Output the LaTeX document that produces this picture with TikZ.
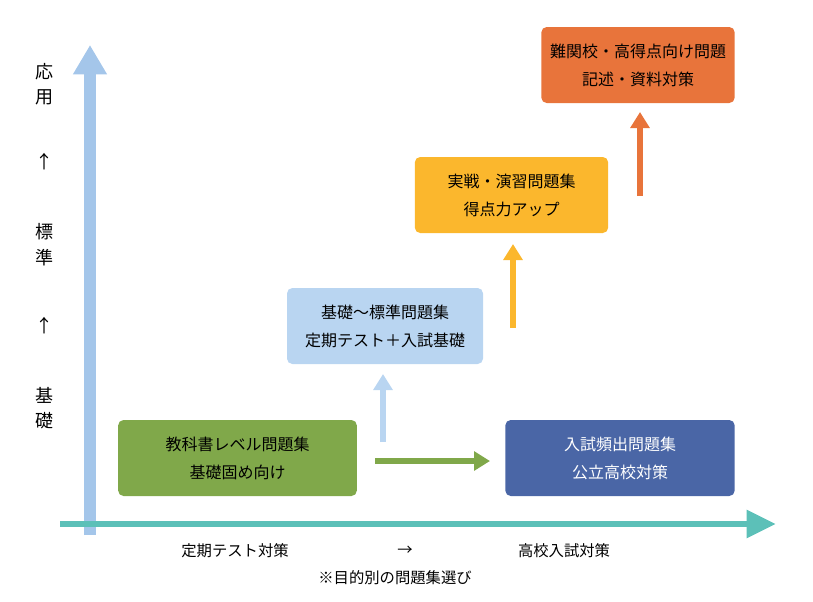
\documentclass[tikz,border=0pt]{standalone}
\usepackage{fontspec}
\setmainfont{Noto Sans CJK JP}
\usetikzlibrary{arrows.meta}
\definecolor{vblue}{HTML}{A4C6EA}
\definecolor{hteal}{HTML}{5CC0B8}
\definecolor{gbox}{HTML}{80A84A}
\definecolor{dbox}{HTML}{4A66A6}
\definecolor{lbox}{HTML}{B9D5F1}
\definecolor{ybox}{HTML}{FBB72D}
\definecolor{obox}{HTML}{E8743B}
\begin{document}
\begin{tikzpicture}[x=0.75pt,y=-0.75pt,
  boxst/.style={rounded corners=4pt,minimum width=#1,minimum height=57pt,align=center,font=\fontsize{12}{21}\selectfont,inner sep=0pt},
  upar/.style={line width=4pt,-{Triangle[length=12pt,width=14pt]}},
  lab/.style={font=\fontsize{13.5}{16}\selectfont}]
\useasboundingbox (0,0) rectangle (813,601);
\coordinate (vs) at (90,535); \coordinate (ve) at (90,45);
\draw[vblue,line width=9pt,-{Triangle[length=22pt,width=24pt]}] (vs) -- (ve);
\coordinate (hs) at (60,524); \coordinate (he) at (776,524);
\draw[hteal,line width=5pt,-{Triangle[length=22pt,width=20pt]}] (hs) -- (he);
\node[lab] (l1) at (45,72) {応};
\node[lab] (l2) at (45,97) {用};
\node[lab] (l3) at (45,162) {↑};
\node[lab] (l4) at (45,232) {標};
\node[lab] (l5) at (45,258) {準};
\node[lab] (l6) at (45,326) {↑};
\node[lab] (l7) at (45,395) {基};
\node[lab] (l8) at (45,421) {礎};
\node[boxst=179pt,fill=gbox] (g) at (237.5,458) {教科書レベル問題集\\基礎固め向け};
\node[boxst=172pt,fill=dbox,text=white] (d) at (620,458) {入試頻出問題集\\公立高校対策};
\node[boxst=147pt,fill=lbox] (lb) at (385,326) {基礎〜標準問題集\\定期テスト＋入試基礎};
\node[boxst=145pt,fill=ybox] (y) at (511.5,195) {実戦・演習問題集\\得点力アップ};
\node[boxst=145pt,fill=obox] (o) at (638,65) {難関校・高得点向け問題\\記述・資料対策};
\coordinate (a1) at (375,461); \coordinate (a2) at (490,461);
\draw[gbox,upar] (a1) -- (a2);
\coordinate (b1) at (383,442); \coordinate (b2) at (383,374);
\draw[lbox,upar] (b1) -- (b2);
\coordinate (c1) at (513,328); \coordinate (c2) at (513,244);
\draw[ybox,upar] (c1) -- (c2);
\coordinate (e1) at (640,196); \coordinate (e2) at (640,112);
\draw[obox,upar] (e1) -- (e2);
\node[font=\fontsize{11.5}{14}\selectfont] (t1) at (235,551) {定期テスト対策};
\node[font=\fontsize{11.5}{14}\selectfont] (t2) at (405,551) {→};
\node[font=\fontsize{11.5}{14}\selectfont] (t3) at (564,551) {高校入試対策};
\node[font=\fontsize{11.5}{14}\selectfont] (t4) at (395,578) {※目的別の問題集選び};
\end{tikzpicture}
\end{document}
